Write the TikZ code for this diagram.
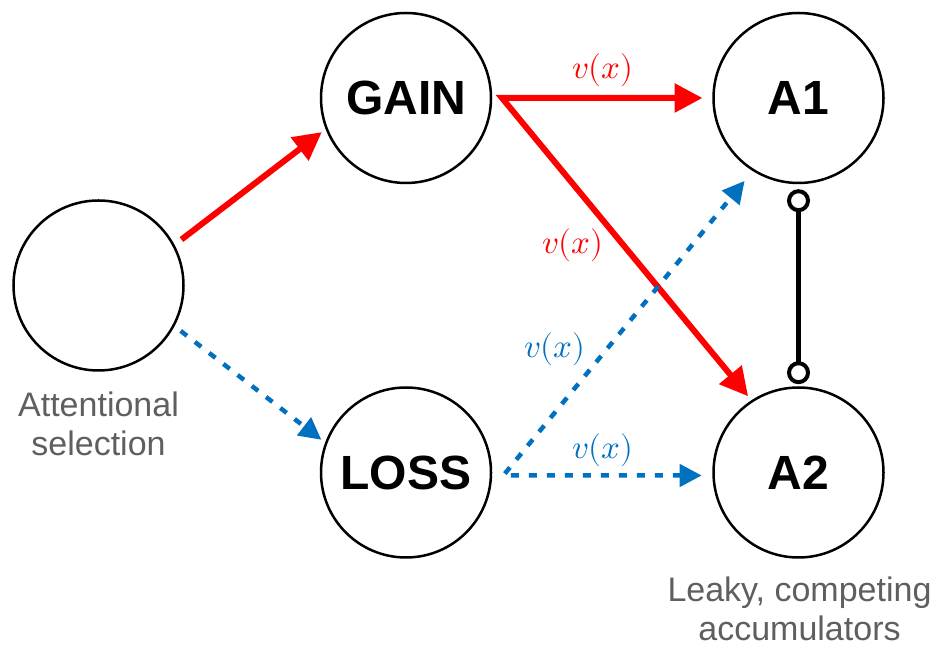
\documentclass[tikz,border=0pt]{standalone}
\usepackage{fontspec}
\usepackage{unicode-math}
\newfontfamily\lsans{Liberation Sans}
\usetikzlibrary{arrows.meta}
\definecolor{myred}{RGB}{255,0,0}
\definecolor{myblue}{RGB}{0,112,192}
\definecolor{mygrey}{RGB}{95,95,95}
\begin{document}
\begin{tikzpicture}[x=1pt,y=1pt,
  unit/.style={circle,draw,line width=2.5pt,minimum size=170pt,inner sep=0pt,outer sep=0pt,
    font=\lsans\bfseries\fontsize{48pt}{48pt}\selectfont},
  dot/.style={circle,draw,fill=white,line width=4pt,minimum size=19pt,inner sep=0pt,outer sep=0pt},
  redarrow/.style={draw=myred,line width=6pt,-{Triangle[length=28pt,width=28pt]}},
  redvee/.style={draw=myred,line width=6pt,{Triangle[length=28pt,width=28pt]}-{Triangle[length=28pt,width=28pt]}},
  bluearrow/.style={draw=myblue,line width=4.5pt,dash pattern=on 8pt off 10pt,-{Triangle[length=22pt,width=22pt]}},
  bluevee/.style={draw=myblue,line width=4.5pt,dash pattern=on 8pt off 10pt,{Triangle[length=22pt,width=22pt]}-{Triangle[length=22pt,width=22pt]}},
  lab/.style={inner sep=0pt,font=\fontsize{33pt}{33pt}\selectfont},
  note/.style={inner sep=0pt,align=center,text=mygrey,font=\lsans\fontsize{34pt}{39pt}\selectfont}
]
\useasboundingbox (0,0) rectangle (942,666);

% units
\node[unit] (L) at (98.5,380.5) {};
\node[unit] (GAIN) at (406,568) {GAIN};
\node[unit] (LOSS) at (406,193.5) {LOSS};
\node[unit] (A1) at (798.5,568) {A1};
\node[unit] (A2) at (798.5,193.5) {A2};

% captions
\node[note,anchor=north] (att) at (98.5,274) {Attentional\\selection};
\node[note,anchor=north] (acc) at (799.5,89) {Leaky, competing\\accumulators};

% attention to GAIN / LOSS
\draw[redarrow,shorten <=10pt,shorten >=6pt] (L.28) -- (GAIN.201);
\draw[bluearrow,shorten <=9pt,shorten >=6pt] (L.-28.6) -- (LOSS.160);

% GAIN to accumulators
\coordinate (gc) at ([xshift=11pt]GAIN.east);
\draw[redvee,shorten <=11pt,shorten >=6.4pt] (A1.west) -- (gc) -- (A2.123.3);

% LOSS to accumulators
\coordinate (lc) at ([shift={(12.3pt,-3pt)}]LOSS.east);
\draw[bluevee,shorten <=11.8pt,shorten >=14pt] (A2.west |- lc) -- (lc) -- (A1.238.5);

% mutual inhibition
\node[dot] (s1) at (798.5,465.3) {};
\node[dot] (s2) at (798.5,293.3) {};
\draw[line width=4.5pt] (s1) -- (s2);

% labels
\node[lab,text=myred] (l1) at (603,595.5) {$v(x)$};
\node[lab,text=myred] (l2) at (573,420.5) {$v(x)$};
\node[lab,text=myblue] (l3) at (555,317) {$v(x)$};
\node[lab,text=myblue] (l4) at (602.5,215.5) {$v(x)$};
\end{tikzpicture}
\end{document}
